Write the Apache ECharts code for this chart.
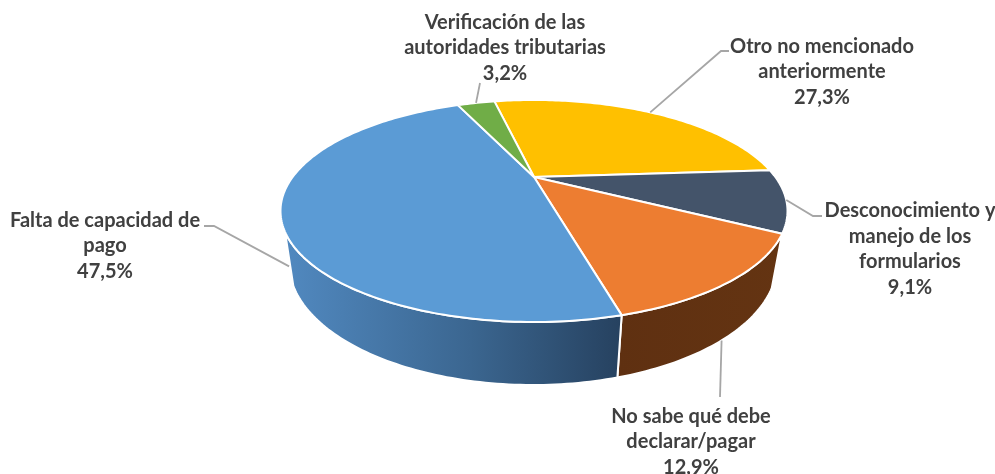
<!DOCTYPE html>
<html><head><meta charset="utf-8">
<style>html,body{margin:0;padding:0;background:#fff}#c{width:995px;height:474px}</style>
<script src="https://cdn.jsdelivr.net/npm/echarts@6/dist/echarts.min.js"></script>
</head><body><div id="c"></div>
<script>
// Data, clockwise from the green/yellow boundary
const categories = ['Otro no mencionado\nanteriormente','Desconocimiento y\nmanejo de los\nformularios','No sabe qué debe\ndeclarar/pagar','Falta de capacidad de\npago','Verificación de las\nautoridades tributarias'];
const values = [27.3, 9.1, 12.9, 47.5, 3.2];
const valueLabels = ['27,3%','9,1%','12,9%','47,5%','3,2%'];
const topColors = ['#FFC000','#44546A','#ED7D31','#5B9BD5','#70AD47'];

// Styling and layout
const sideFills = [
  null, null,
  {type:'linear',x:0,y:0,x2:1,y2:0,colorStops:[{offset:0,color:'#5f3011'},{offset:1,color:'#643412'}]},
  {type:'linear',x:0,y:0,x2:1,y2:0,colorStops:[{offset:0,color:'#5189c0'},{offset:0.55,color:'#3b6690'},{offset:1,color:'#26415f'}]},
  null
];
const top3d = {cx:534, cy:211, rx:253.5, ry:111, p:-0.306, start:-12.3};
const bottom3d = {cx:533, cy:263, rx:244, ry:122};
const visible = {from:10, to:170};
const labelPos = [[822,72],[910,249],[691,442],[105,246],[505,48]];
const leaderVia = [[[721,51],[729,51]],[[813,216],[822,216]],[[720,397]],[[214,226],[204,226]],[[480,83]]];
const leaderOnBottom = [false,false,true,true,false];

const total = values.reduce((a,b)=>a+b,0);
function unit(theta){ // slice angle -> point on the tilted disc (unit ellipse coords)
  const r=theta*Math.PI/180, x=Math.sin(r), y=-Math.cos(r), p=top3d.p, d=1+p*y;
  return [x*Math.sqrt(1-p*p)/d,(y+p)/d];
}
const onTop=u=>[top3d.cx+top3d.rx*u[0],top3d.cy+top3d.ry*u[1]];
const onBottom=u=>[bottom3d.cx+bottom3d.rx*u[0],bottom3d.cy+bottom3d.ry*u[1]];
const phi=u=>Math.atan2(u[1],u[0])*180/Math.PI;

function render(params){
  const i=params.dataIndex;
  let acc=0; for(let k=0;k<i;k++) acc+=values[k];
  const a0=top3d.start+acc/total*360, a1=a0+values[i]/total*360;
  const samples=[]; for(let t=a0;t<a1;t+=1) samples.push(t); samples.push(a1);
  const children=[];
  if(sideFills[i]){
    const us=samples.map(unit).filter(u=>{const f=phi(u);return f>=visible.from&&f<=visible.to;});
    if(us.length>1){
      const pts=us.map(onTop).concat(us.slice().reverse().map(onBottom));
      children.push({type:'polygon',z2:1,shape:{points:pts},style:{fill:sideFills[i],stroke:'#fff',lineWidth:2,lineJoin:'round'}});
    }
  }
  const pts=[[top3d.cx,top3d.cy+top3d.ry*top3d.p]].concat(samples.map(t=>onTop(unit(t))));
  children.push({type:'polygon',z2:5,shape:{points:pts},style:{fill:topColors[i],stroke:'#fff',lineWidth:2,lineJoin:'round'}});
  const mid=unit((a0+a1)/2), st=(leaderOnBottom[i]?onBottom:onTop)(mid);
  children.push({type:'polyline',z2:6,shape:{points:[st].concat(leaderVia[i])},style:{fill:null,stroke:'#a6a6a6',lineWidth:1.8}});
  children.push({type:'text',z2:7,x:labelPos[i][0],y:labelPos[i][1],style:{
    text:categories[i]+'\n'+valueLabels[i],fill:'#404040',font:'bold 20px Lato',lineHeight:25.5,align:'center',verticalAlign:'middle'}});
  return {type:'group',children};
}
const chart=echarts.init(document.getElementById('c'),null,{renderer:'canvas'});
chart.setOption({animation:false,backgroundColor:'#fff',series:[{
  type:'custom',coordinateSystem:'none',renderItem:render,
  data:values.map((v,i)=>[i,v]),silent:true}]});
</script></body></html>
